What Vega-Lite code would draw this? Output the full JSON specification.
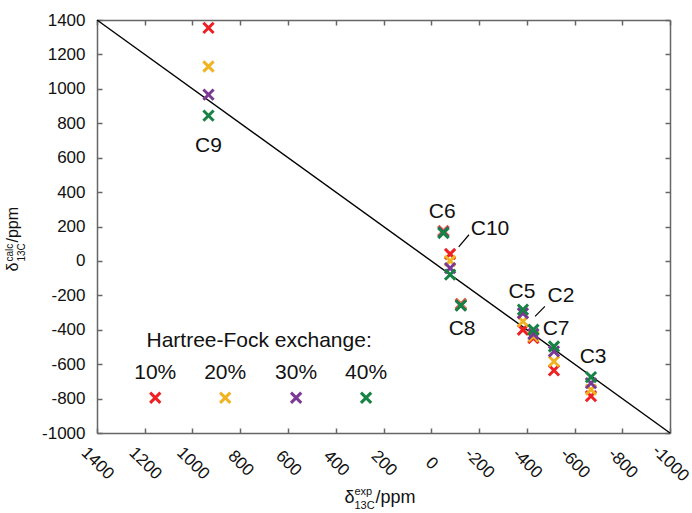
{
  "$schema": "https://vega.github.io/schema/vega-lite/v6.json",
  "width": 573,
  "height": 413,
  "autosize": "none",
  "padding": {"left": 97, "top": 20, "right": 22, "bottom": 80},
  "background": "white",
  "config": {
    "view": {"stroke": null},
    "font": "Liberation Sans",
    "axis": {"labelFont": "Liberation Sans", "titleFont": "Liberation Sans", "labelColor": "#111", "titleColor": "#111", "titleFontWeight": "normal", "grid": false}
  },
  "datasets": {
    "diag": [{"exp": 1400, "calc": 1400}, {"exp": -1000, "calc": -1000}],
    "pts": [
      {"atom": "C9", "hf": "10%", "exp": 933, "calc": 1354},
      {"atom": "C9", "hf": "20%", "exp": 933, "calc": 1130},
      {"atom": "C9", "hf": "30%", "exp": 933, "calc": 966},
      {"atom": "C9", "hf": "40%", "exp": 933, "calc": 844},
      {"atom": "C6", "hf": "10%", "exp": -51, "calc": 174},
      {"atom": "C6", "hf": "20%", "exp": -51, "calc": 172},
      {"atom": "C6", "hf": "30%", "exp": -51, "calc": 168},
      {"atom": "C6", "hf": "40%", "exp": -51, "calc": 162},
      {"atom": "C10", "hf": "10%", "exp": -79, "calc": 40},
      {"atom": "C10", "hf": "20%", "exp": -79, "calc": 0},
      {"atom": "C10", "hf": "30%", "exp": -79, "calc": -42},
      {"atom": "C10", "hf": "40%", "exp": -79, "calc": -80},
      {"atom": "C8", "hf": "10%", "exp": -124, "calc": -250},
      {"atom": "C8", "hf": "20%", "exp": -124, "calc": -253},
      {"atom": "C8", "hf": "30%", "exp": -124, "calc": -257},
      {"atom": "C8", "hf": "40%", "exp": -124, "calc": -260},
      {"atom": "C5", "hf": "10%", "exp": -384, "calc": -400},
      {"atom": "C5", "hf": "20%", "exp": -384, "calc": -351},
      {"atom": "C5", "hf": "30%", "exp": -384, "calc": -304},
      {"atom": "C5", "hf": "40%", "exp": -384, "calc": -283},
      {"atom": "C2", "hf": "10%", "exp": -428, "calc": -448},
      {"atom": "C2", "hf": "20%", "exp": -428, "calc": -438},
      {"atom": "C2", "hf": "30%", "exp": -428, "calc": -425},
      {"atom": "C2", "hf": "40%", "exp": -428, "calc": -400},
      {"atom": "C7", "hf": "10%", "exp": -514, "calc": -636},
      {"atom": "C7", "hf": "20%", "exp": -514, "calc": -584},
      {"atom": "C7", "hf": "30%", "exp": -514, "calc": -526},
      {"atom": "C7", "hf": "40%", "exp": -514, "calc": -497},
      {"atom": "C3", "hf": "10%", "exp": -669, "calc": -786},
      {"atom": "C3", "hf": "20%", "exp": -669, "calc": -748},
      {"atom": "C3", "hf": "30%", "exp": -669, "calc": -710},
      {"atom": "C3", "hf": "40%", "exp": -669, "calc": -675}
    ],
    "legendpts": [
      {"hf": "10%", "exp": 1156, "calc": -795},
      {"hf": "20%", "exp": 863, "calc": -795},
      {"hf": "30%", "exp": 566, "calc": -795},
      {"hf": "40%", "exp": 273, "calc": -795}
    ],
    "texts": [
      {"text": "C9", "exp": 933, "calc": 631},
      {"text": "C6", "exp": -46, "calc": 249},
      {"text": "C10", "exp": -246, "calc": 152},
      {"text": "C8", "exp": -129, "calc": -429},
      {"text": "C5", "exp": -380, "calc": -215},
      {"text": "C2", "exp": -543, "calc": -241},
      {"text": "C7", "exp": -523, "calc": -429},
      {"text": "C3", "exp": -678, "calc": -593},
      {"text": "Hartree-Fock exchange:", "exp": 721, "calc": -500},
      {"text": "10%", "exp": 1156, "calc": -686},
      {"text": "20%", "exp": 863, "calc": -686},
      {"text": "30%", "exp": 566, "calc": -686},
      {"text": "40%", "exp": 273, "calc": -686}
    ],
    "arrows": [
      {"exp": -158, "calc": 152, "exp2": -115, "calc2": 81},
      {"exp": -476, "calc": -264, "exp2": -435, "calc2": -322}
    ]
  },
  "layer": [
    {
      "data": {"name": "diag"},
      "mark": {"type": "line", "color": "#000", "strokeWidth": 1.4},
      "encoding": {
        "x": {"field": "exp", "type": "quantitative",
          "scale": {"domain": [-1000, 1400], "reverse": true, "nice": false, "zero": false},
          "axis": {"orient": "bottom", "values": [-1000, -800, -600, -400, -200, 0, 200, 400, 600, 800, 1000, 1200, 1400],
            "tickSize": -5, "tickColor": "#666", "tickWidth": 1.5, "domainColor": "#666", "domainWidth": 1.5,
            "labelAngle": 45, "labelAlign": "center", "labelBaseline": "middle", "labelPadding": 35, "labelFontSize": 17,
            "labelExpr": "'' + datum.value", "labelOverlap": false, "labelFlush": false, "labelBound": false,
            "title": "δ", "titleFontSize": 18, "titleX": 247, "titleY": 69, "titleAlign": "left", "titleBaseline": "alphabetic", "titleAngle": 0}},
        "y": {"field": "calc", "type": "quantitative",
          "scale": {"domain": [-1000, 1400], "nice": false, "zero": false},
          "axis": {"orient": "left", "values": [-1000, -800, -600, -400, -200, 0, 200, 400, 600, 800, 1000, 1200, 1400],
            "tickSize": -5, "tickColor": "#666", "tickWidth": 1.5, "domainColor": "#666", "domainWidth": 1.5,
            "labelPadding": 17, "labelFontSize": 17, "labelExpr": "'' + datum.value", "labelOverlap": false, "labelFlush": false, "labelBound": false,
            "title": "δ", "titleFontSize": 16, "titleX": -80, "titleY": 251, "titleAlign": "left", "titleBaseline": "alphabetic", "titleAngle": -90}}
      }
    },
    {
      "data": {"name": "pts"},
      "mark": {"type": "point", "shape": "M-1,-1L1,1M-1,1L1,-1", "filled": false, "strokeWidth": 3, "size": 105, "opacity": 1},
      "encoding": {
        "x": {"field": "exp", "type": "quantitative",
          "scale": {"domain": [-1000, 1400], "reverse": true, "nice": false, "zero": false},
          "axis": {"orient": "top", "values": [-1000, -800, -600, -400, -200, 0, 200, 400, 600, 800, 1000, 1200, 1400],
            "tickSize": -5, "tickColor": "#666", "tickWidth": 1.5, "domainColor": "#666", "domainWidth": 1.5, "labels": false, "title": null}},
        "y": {"field": "calc", "type": "quantitative",
          "scale": {"domain": [-1000, 1400], "nice": false, "zero": false},
          "axis": {"orient": "right", "values": [-1000, -800, -600, -400, -200, 0, 200, 400, 600, 800, 1000, 1200, 1400],
            "tickSize": -5, "tickColor": "#666", "tickWidth": 1.5, "domainColor": "#666", "domainWidth": 1.5, "labels": false, "title": null}},
        "stroke": {"field": "hf", "type": "nominal", "scale": {"domain": ["10%", "20%", "30%", "40%"], "range": ["#ee2024", "#f0b323", "#7b3894", "#168243"]}, "legend": null}
      }
    },
    {
      "data": {"name": "texts"},
      "mark": {"type": "text", "fontSize": 21, "font": "Liberation Sans", "align": "center", "baseline": "alphabetic", "color": "#111"},
      "encoding": {
        "text": {"field": "text"},
        "x": {"field": "exp", "type": "quantitative",
          "scale": {"domain": [-1000, 1400], "reverse": true, "nice": false, "zero": false},
          "axis": {"orient": "bottom", "domain": false, "ticks": false, "labels": false, "grid": false,
            "title": "13C", "titleFontSize": 11, "titleX": 257, "titleY": 75, "titleAlign": "left", "titleBaseline": "alphabetic", "titleAngle": 0}},
        "y": {"field": "calc", "type": "quantitative",
          "scale": {"domain": [-1000, 1400], "nice": false, "zero": false},
          "axis": {"orient": "left", "domain": false, "ticks": false, "labels": false, "grid": false,
            "title": "13C", "titleFontSize": 10, "titleX": -73, "titleY": 241, "titleAlign": "left", "titleBaseline": "alphabetic", "titleAngle": -90}}
      }
    },
    {
      "data": {"name": "arrows"},
      "mark": {"type": "rule", "color": "#000", "strokeWidth": 1.2},
      "encoding": {
        "x": {"field": "exp", "type": "quantitative",
          "scale": {"domain": [-1000, 1400], "reverse": true, "nice": false, "zero": false},
          "axis": {"orient": "bottom", "domain": false, "ticks": false, "labels": false, "grid": false,
            "title": "exp", "titleFontSize": 11, "titleX": 257, "titleY": 61, "titleAlign": "left", "titleBaseline": "alphabetic", "titleAngle": 0}},
        "y": {"field": "calc", "type": "quantitative",
          "scale": {"domain": [-1000, 1400], "nice": false, "zero": false},
          "axis": {"orient": "left", "domain": false, "ticks": false, "labels": false, "grid": false,
            "title": "calc", "titleFontSize": 10, "titleX": -85, "titleY": 241, "titleAlign": "left", "titleBaseline": "alphabetic", "titleAngle": -90}},
        "x2": {"field": "exp2"},
        "y2": {"field": "calc2"}
      }
    },
    {
      "data": {"name": "legendpts"},
      "mark": {"type": "point", "shape": "M-1,-1L1,1M-1,1L1,-1", "filled": false, "strokeWidth": 3, "size": 105, "opacity": 1},
      "encoding": {
        "x": {"field": "exp", "type": "quantitative",
          "scale": {"domain": [-1000, 1400], "reverse": true, "nice": false, "zero": false},
          "axis": {"orient": "bottom", "domain": false, "ticks": false, "labels": false, "grid": false,
            "title": "/ppm", "titleFontSize": 18, "titleX": 278, "titleY": 69, "titleAlign": "left", "titleBaseline": "alphabetic", "titleAngle": 0}},
        "y": {"field": "calc", "type": "quantitative",
          "scale": {"domain": [-1000, 1400], "nice": false, "zero": false},
          "axis": {"orient": "left", "domain": false, "ticks": false, "labels": false, "grid": false,
            "title": "/ppm", "titleFontSize": 16, "titleX": -80, "titleY": 222, "titleAlign": "left", "titleBaseline": "alphabetic", "titleAngle": -90}},
        "stroke": {"field": "hf", "type": "nominal", "scale": {"domain": ["10%", "20%", "30%", "40%"], "range": ["#ee2024", "#f0b323", "#7b3894", "#168243"]}, "legend": null}
      }
    }
  ],
  "resolve": {"axis": {"x": "independent", "y": "independent"}}
}
